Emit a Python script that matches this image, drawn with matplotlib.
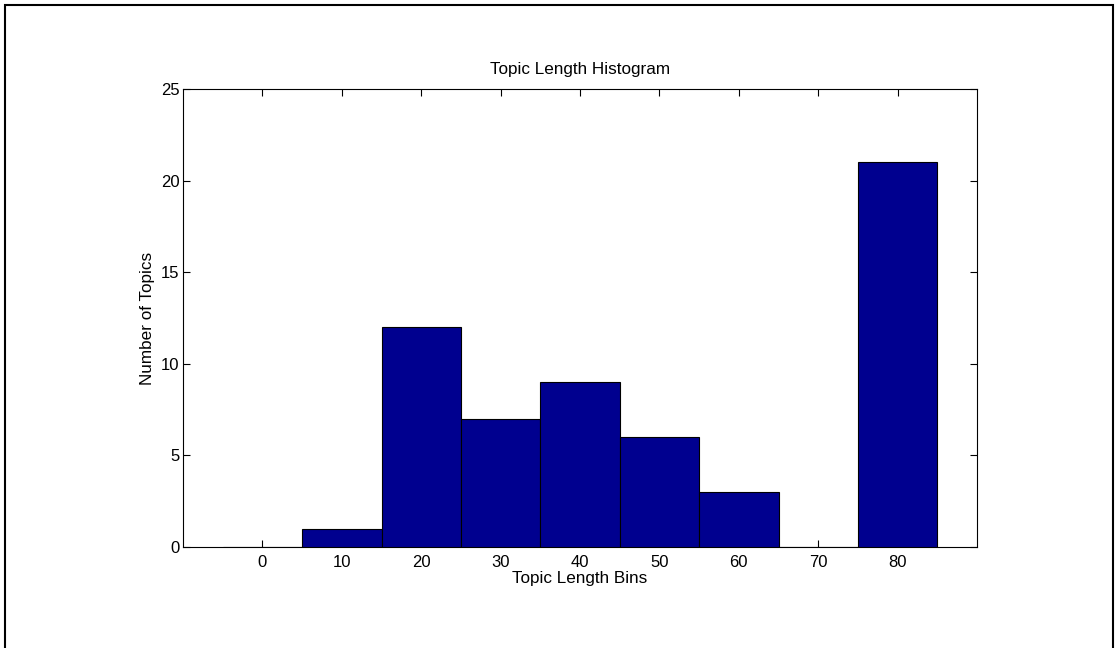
import numpy as np
import matplotlib as mpl
import matplotlib.pyplot as plt

mpl.rcParams['font.family'] = ['Liberation Sans', 'DejaVu Sans']

bin_centers = [0, 10, 20, 30, 40, 50, 60, 70, 80]
counts = [0, 1, 12, 7, 9, 6, 3, 0, 21]

fig = plt.figure(figsize=(11.19, 6.48), dpi=100)
W, H = 1119., 648.
# axes box in pixels: left 183, right 977, top 89, bottom 547
ax = fig.add_axes([183/W, 1 - 547/H, (977-183)/W, (547-89)/H])

ax.bar(bin_centers, counts, width=10, color='#00008f', edgecolor='black', linewidth=0.8, zorder=3)

ax.set_xlim(-10, 90)
ax.set_ylim(0, 25)
ax.set_xticks(np.arange(0, 90, 10))
ax.set_yticks(np.arange(0, 30, 5))
ax.tick_params(direction='in', top=True, right=True, length=5, width=0.8, labelsize=12)
ax.tick_params(axis='x', pad=6)
ax.tick_params(axis='y', pad=2.5)
for s in ax.spines.values():
    s.set_linewidth(0.8)

ax.set_title('Topic Length Histogram', fontsize=12.3, pad=10.5)
ax.set_xlabel('Topic Length Bins', fontsize=12.3, labelpad=0.5)
ax.set_ylabel('Number of Topics', fontsize=12.3, labelpad=4)

# outer frame
fig.add_artist(plt.Rectangle((5/W, -0.01), (1113-5)/W, 1 - 5/H + 0.01, transform=fig.transFigure,
                             fill=False, edgecolor='black', linewidth=1.5))

fig.savefig('out.png', dpi=100)
